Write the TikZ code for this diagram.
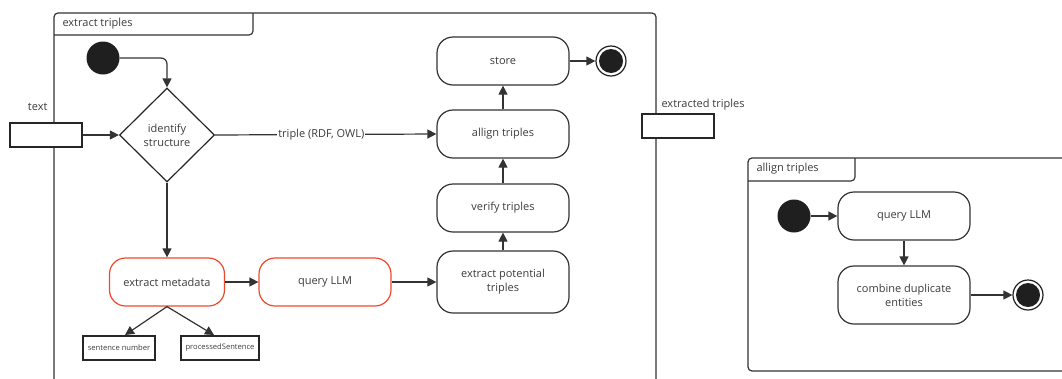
\documentclass[tikz,border=0pt]{standalone}
\usepackage{fontspec}
\setmainfont{Open Sans}
\usetikzlibrary{arrows.meta,shapes.geometric}
\definecolor{ink}{HTML}{333333}
\definecolor{txt}{HTML}{3C3C3C}
\definecolor{hot}{HTML}{EC4A2C}
\tikzset{
  every node/.style={text=txt,font=\fontsize{11}{14}\selectfont},
  flow/.style={draw=ink,line width=1.2pt,-{Triangle[length=9pt,width=9pt]}},
  act/.style={draw=ink,line width=1.2pt,rounded corners=16pt,minimum width=132pt,minimum height=48pt,align=center,inner sep=2pt},
  hotact/.style={act,draw=hot,minimum width=115pt},
  pin/.style={draw=black!85,line width=2pt,minimum width=72pt,minimum height=24pt,inner sep=0pt},
  datum/.style={draw=black!85,line width=2pt,minimum height=24pt,inner sep=2pt,font=\fontsize{7.6}{9}\selectfont},
  initial/.style={circle,fill=black!88,minimum size=33pt,inner sep=0pt},
  final/.style={circle,draw=black!88,line width=1.2pt,fill=white,minimum size=30pt,inner sep=0pt,
    path picture={\fill[black!88] (path picture bounding box.center) circle (12pt);}},
  frame/.style={draw=ink,line width=1.2pt,rounded corners=4pt},
  choice/.style={diamond,draw=black!85,line width=1.2pt,minimum width=95pt,minimum height=94pt,inner sep=0pt,align=center}
}
\begin{document}
\begin{tikzpicture}[x=1pt,y=-1pt]
\useasboundingbox (0,0) rectangle (1062,378);
\clip (0,0) rectangle (1062,378);

% outer activity frame
\draw[frame] (54,400) -- (54,13) -- (656,13) -- (656,400);
\draw[frame] (54,35) -| (253,13);
\node[anchor=west] (tmain) at (59,24) {extract triples};

% input / output pins
\node[pin,fill=white] (pinin) at (46,135) {};
\node[anchor=south east] (tin) at (51,114) {text};
\node[pin,fill=white] (pinout) at (678,126) {};
\node[anchor=south west] (tout) at (658,114) {extracted triples};

% activity nodes
\node[initial] (start) at (103,58) {};
\node[choice] (ident) at (167,135) {identify\\structure};
\node[act] (store) at (503,61) {store};
\node[final] (stop) at (611,61) {};
\node[act] (align) at (503,134) {allign triples};
\node[act] (verify) at (503,208) {verify triples};
\node[act,minimum height=62pt] (extpot) at (503,282) {extract potential\\triples};
\node[hotact] (meta) at (167,282) {extract metadata};
\node[hotact,minimum width=132pt] (qllm) at (325,282) {query LLM};
\node[datum,minimum width=72pt] (sentno) at (119,348) {sentence number};
\node[datum,minimum width=78pt] (procs) at (220,348) {processedSentence};

% control flows
\draw[flow,rounded corners=6pt] (start.east) -| (ident.north);
\draw[flow] (pinin.east) -- (ident.west);
\draw[flow] (ident.east) -- node[pos=0.48,fill=white,inner sep=1pt] (lbl) {triple (RDF, OWL)} (align.west);
\draw[flow] (ident.south) -- (meta.north);
\draw[flow] (meta.east) -- (qllm.west);
\draw[flow] (qllm.east) -- (extpot.west);
\draw[flow] (extpot.north) -- (verify.south);
\draw[flow] (verify.north) -- (align.south);
\draw[flow] (align.north) -- (store.south);
\draw[flow] (store.east) -- (stop.west);
\draw[flow] (meta.south) -- (sentno.north -| 125,0);
\draw[flow] (meta.south) -- (procs.north -| 214,0);

% nested activity: allign triples
\draw[frame] (1080,371) -- (748,371) -- (748,158) -- (1080,158);
\draw[frame] (748,181) -| (855,158);
\node[anchor=west] (tsub) at (753,169) {allign triples};
\node[initial] (start2) at (794,216) {};
\node[act] (qllm2) at (904,216) {query LLM};
\node[act,minimum height=58pt] (combine) at (904,295) {combine duplicate\\entities};
\node[final] (stop2) at (1028,295) {};
\draw[flow] (start2.east) -- (qllm2.west);
\draw[flow] (qllm2.south) -- (combine.north);
\draw[flow] (combine.east) -- (stop2.west);
\end{tikzpicture}
\end{document}
